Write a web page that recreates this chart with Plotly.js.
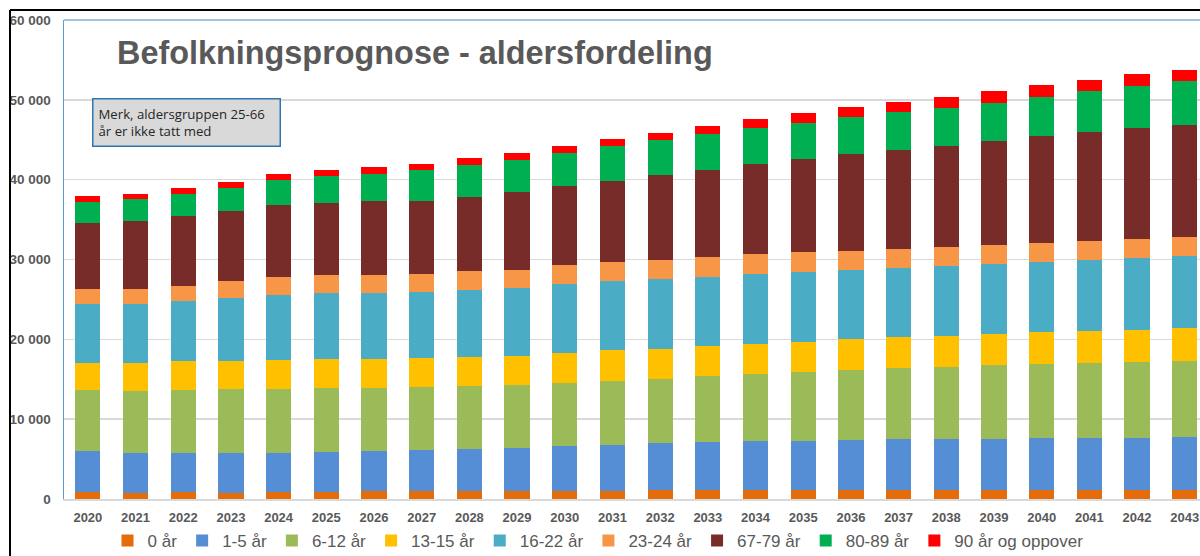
<!DOCTYPE html>
<html>
<head>
<meta charset="utf-8">
<script src="https://cdn.plot.ly/plotly-3.0.1.min.js"></script>
<style>html,body{margin:0;padding:0;background:#fff;overflow:hidden}#chart{width:1200px;height:556px}</style>
</head>
<body>
<div id="chart"></div>
<script>
const years = ['2020','2021','2022','2023','2024','2025','2026','2027','2028','2029','2030','2031','2032','2033','2034','2035','2036','2037','2038','2039','2040','2041','2042','2043'];
const groupNames = ['0 år','1-5 år','6-12 år','13-15 år','16-22 år','23-24 år','67-79 år','80-89 år','90 år og oppover'];
const groupColors = ['#e46c0a','#558ed5','#9bbb59','#ffc000','#4bacc6','#f79646','#772c2a','#00b050','#ff0000'];

const age0     = [875,792,875,792,875,875,958,958,958,1000,1042,1042,1125,1125,1125,1167,1167,1167,1167,1167,1167,1167,1167,1167];
const age1_5   = [5083,5000,4917,5000,4917,5000,5000,5125,5250,5333,5542,5750,5833,5958,6125,6125,6208,6292,6375,6375,6458,6458,6458,6583];
const age6_12  = [7750,7750,7917,8000,8000,8000,8000,7958,8000,7958,8000,8042,8125,8333,8458,8625,8792,8958,9042,9250,9333,9417,9542,9500];
const age13_15 = [3375,3500,3583,3542,3625,3625,3583,3625,3583,3667,3708,3833,3708,3708,3750,3750,3833,3833,3833,3875,3958,4000,4042,4125];
const age16_22 = [7292,7333,7500,7875,8125,8250,8250,8250,8417,8500,8583,8625,8750,8708,8750,8792,8708,8708,8792,8708,8792,8917,9000,9042];
const age23_24 = [1917,1917,1917,2083,2292,2250,2208,2250,2292,2250,2417,2417,2375,2458,2458,2500,2417,2417,2417,2417,2375,2375,2375,2417];
const age67_79 = [8333,8500,8750,8750,8958,9042,9292,9167,9375,9708,9875,10167,10625,10958,11292,11583,12042,12375,12583,13000,13333,13625,13833,13958];
const age80_89 = [2583,2750,2792,2958,3167,3417,3458,3875,3958,4042,4208,4333,4375,4500,4542,4583,4625,4708,4792,4833,4958,5125,5333,5542];
const age90    = [708,708,708,750,708,708,792,750,833,833,875,875,917,917,1042,1250,1250,1250,1417,1458,1500,1417,1500,1458];

const series = [age0, age1_5, age6_12, age13_15, age16_22, age23_24, age67_79, age80_89, age90];

const traces = series.map((vals, i) => ({
  type: 'bar',
  name: groupNames[i],
  x: years,
  y: vals,
  marker: {color: groupColors[i], line: {width: 0}},
  hoverinfo: 'x+y+name'
}));

const PL = 64, PR = 1200, PT = 20, PB = 499;
const pw = PR - PL, ph = PB - PT;
const px = v => (v - PL) / pw;
const py = v => (PB - v) / ph;

const layout = {
  width: 1200,
  height: 556,
  margin: {l: PL, r: 1200 - PR, t: PT, b: 556 - PB, pad: 0, autoexpand: false},
  paper_bgcolor: '#ffffff',
  plot_bgcolor: '#ffffff',
  barmode: 'stack',
  bargap: 0.47,
  separators: ', ',
  showlegend: true,
  font: {family: 'Liberation Sans, Arial, sans-serif', color: '#595959'},
  title: {
    text: 'Befolkningsprognose - aldersfordeling',
    font: {family: 'Liberation Sans, Arial, sans-serif', size: 32.4, color: '#595959', weight: 'bold'},
    xref: 'paper', x: px(117), xanchor: 'left',
    yref: 'container', y: 1 - 53 / 556, yanchor: 'middle'
  },
  xaxis: {
    type: 'category',
    range: [-0.5, 23.32],
    showgrid: false,
    showline: true,
    linecolor: '#d9d9d9',
    linewidth: 1.5,
    ticks: '',
    ticklabelstandoff: 6,
    automargin: false,
    tickfont: {family: 'Liberation Sans, Arial, sans-serif', size: 13, color: '#595959', weight: 'bold'},
    fixedrange: true
  },
  yaxis: {
    range: [0, 60000],
    tickvals: [0, 10000, 20000, 30000, 40000, 50000, 60000],
    tickformat: ',.0f',
    showgrid: true,
    gridcolor: '#d9d9d9',
    gridwidth: 1.5,
    zeroline: false,
    showline: true,
    linecolor: '#5b9bd5',
    linewidth: 1.5,
    ticks: '',
    ticklabelstandoff: 9,
    automargin: false,
    tickfont: {family: 'Liberation Sans, Arial, sans-serif', size: 13.5, color: '#595959', weight: 'bold'},
    fixedrange: true
  },
  legend: {
    orientation: 'h',
    xref: 'container', x: 598 / 1200, xanchor: 'center',
    yref: 'container', y: 1 - 541 / 556, yanchor: 'middle',
    traceorder: 'normal',
    font: {family: 'Liberation Sans, Arial, sans-serif', size: 17, color: '#595959'},
    itemwidth: 30,
    bgcolor: 'rgba(0,0,0,0)'
  },
  shapes: [
    {type: 'line', xref: 'paper', yref: 'paper', x0: px(10), x1: px(1200), y0: py(10), y1: py(10), line: {color: '#000000', width: 2}},
    {type: 'line', xref: 'paper', yref: 'paper', x0: px(10), x1: px(10), y0: py(10), y1: py(560), line: {color: '#000000', width: 2}},
    {type: 'line', xref: 'paper', yref: 'paper', x0: 0, x1: px(1200), y0: 1, y1: 1, line: {color: '#9dc3e6', width: 2}}
  ],
  annotations: [
    {
      xref: 'paper', yref: 'paper',
      x: px(92), y: py(98), xanchor: 'left', yanchor: 'top',
      text: 'Merk, aldersgruppen 25-66<br>år er ikke tatt med',
      showarrow: false,
      align: 'left',
      width: 176,
      height: 36,
      valign: 'middle',
      bgcolor: '#d9d9d9',
      bordercolor: '#2e75b6',
      borderwidth: 1.5,
      borderpad: 5,
      font: {family: 'Open Sans, Liberation Sans, sans-serif', size: 13.2, color: '#262626'}
    }
  ]
};

Plotly.newPlot('chart', traces, layout, {displayModeBar: false, staticPlot: true});
</script>
</body>
</html>
